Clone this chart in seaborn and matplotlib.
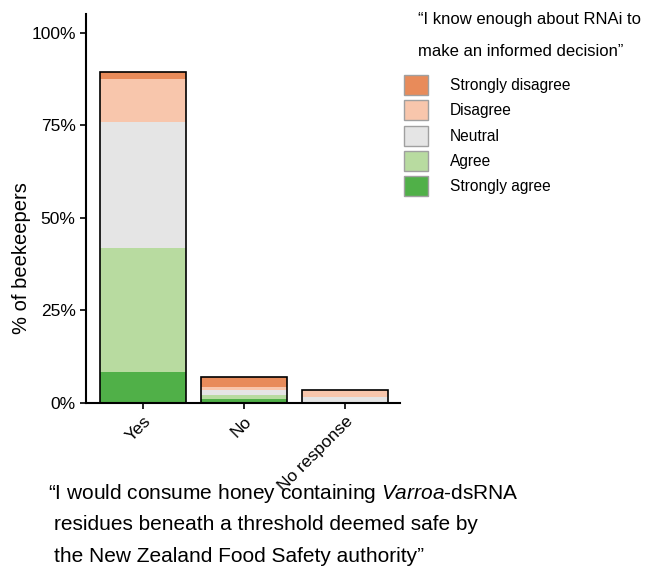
import matplotlib.pyplot as plt
import numpy as np
import pandas as pd
import seaborn as sns
from matplotlib.patches import Patch
from matplotlib.ticker import PercentFormatter

RESPONSES = ["Yes", "No", "No response"]
LEVELS = ["Strongly disagree", "Disagree", "Neutral", "Agree", "Strongly agree"]
COLORS = ["#E88B5A", "#F8C6AC", "#E5E5E5", "#B8DBA0", "#50B048"]

# % of beekeepers per level (bottom of stack = Strongly agree)
strongly_agree = [8.5, 1.0, 0.0]
agree = [33.3, 1.2, 0.0]
neutral = [34.1, 1.3, 1.7]
disagree = [11.6, 0.8, 1.8]
strongly_disagree = [2.0, 2.8, 0.0]

sns.set_theme(style="ticks")
plt.rcParams["font.family"] = ["Liberation Sans", "DejaVu Sans"]
plt.rcParams["mathtext.fontset"] = "custom"
plt.rcParams["mathtext.it"] = "Liberation Sans:italic"
plt.rcParams["mathtext.rm"] = "Liberation Sans"
for key in ["text.color", "axes.labelcolor", "xtick.color", "ytick.color"]:
    plt.rcParams[key] = "black"

fig = plt.figure(figsize=(6.62, 5.70), dpi=100)
ax = fig.add_axes([0.130, 0.293, 0.474, 0.682])

layers = [strongly_agree, agree, neutral, disagree, strongly_disagree]
cum = np.cumsum(np.array(layers), axis=0)
df = pd.DataFrame(cum.T, columns=LEVELS[::-1])
df["response"] = RESPONSES

# draw from top of stack down so each layer overlays the previous
for level, color in zip(LEVELS, COLORS):
    sns.barplot(data=df, x="response", y=level, order=RESPONSES, color=color,
                saturation=1, width=0.85, linewidth=0, ax=ax, errorbar=None)

# outline of the whole stack
sns.barplot(data=df, x="response", y=LEVELS[0], order=RESPONSES, fill=False,
            edgecolor="black", linewidth=1.2, width=0.85, ax=ax, errorbar=None)

ax.set_xlim(-0.56, 2.54)
ax.set_ylim(0, 105)
ax.set_yticks([0, 25, 50, 75, 100])
ax.yaxis.set_major_formatter(PercentFormatter(decimals=0))
ax.set_xlabel("")
ax.set_ylabel("% of beekeepers", fontsize=14.5)
ax.yaxis.set_label_coords(-0.175, 0.373)
ax.tick_params(axis="both", labelsize=12.5, width=1.2, length=4)
plt.setp(ax.get_xticklabels(), rotation=45, ha="right", rotation_mode="anchor")
for s in ["left", "bottom"]:
    ax.spines[s].set_linewidth(1.5)
    ax.spines[s].set_color("black")
sns.despine(ax=ax)

handles = [Patch(facecolor=c, edgecolor="#A0A0A0", linewidth=1) for c in COLORS]
fig.legend(handles, LEVELS, loc="upper left", bbox_to_anchor=(0.589, 0.893),
           frameon=False, fontsize=11.2, handlelength=1.55, handleheight=1.6,
           labelspacing=0.34, handletextpad=1.4)
fig.text(0.632, 0.965, "\u201cI know enough about RNAi to", fontsize=12, va="center")
fig.text(0.632, 0.909, "make an informed decision\u201d", fontsize=12, va="center")

fig.text(0.072, 0.135, "\u201cI would consume honey containing $\\mathit{Varroa}$-dsRNA",
         fontsize=15, va="center")
fig.text(0.081, 0.079, "residues beneath a threshold deemed safe by", fontsize=15, va="center")
fig.text(0.081, 0.023, "the New Zealand Food Safety authority\u201d", fontsize=15, va="center")

fig.savefig("out.png", dpi=100, facecolor="white")
